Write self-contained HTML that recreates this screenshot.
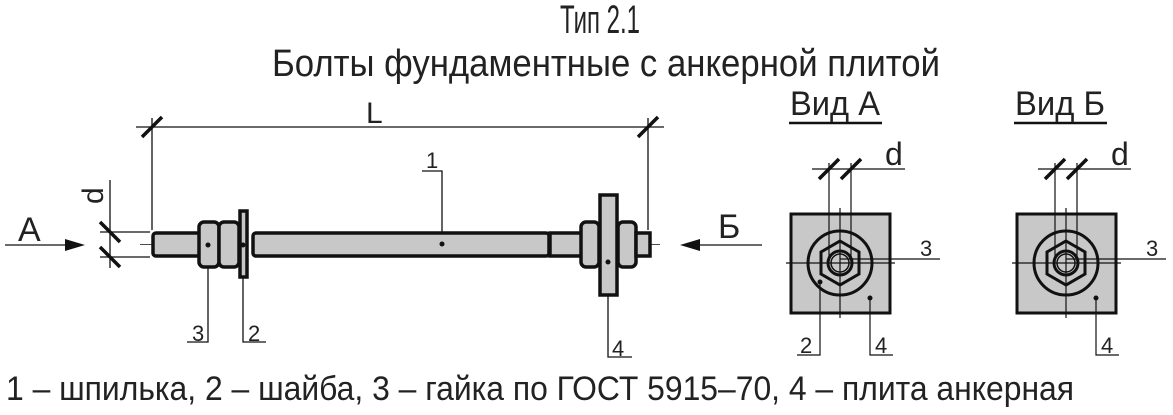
<!DOCTYPE html>
<html><head><meta charset="utf-8"><style>
html,body{margin:0;padding:0;background:#fff;}
svg{display:block;}
text{font-family:"Liberation Sans Narrow","Liberation Sans",sans-serif;fill:#222;}
</style></head><body>
<svg width="1173" height="415" viewBox="0 0 1173 415" xmlns="http://www.w3.org/2000/svg">
<text x="560" y="33" font-size="40" textLength="80" lengthAdjust="spacingAndGlyphs">Тип 2.1</text>
<text x="272" y="76" font-size="38" textLength="668" lengthAdjust="spacingAndGlyphs">Болты фундаментные с анкерной плитой</text>
<text x="6" y="400" font-size="34" textLength="1068" lengthAdjust="spacingAndGlyphs">1 – шпилька, 2 – шайба, 3 – гайка по ГОСТ 5915–70, 4 – плита анкерная</text>

<g stroke="#111" fill="none" stroke-width="1.3">
<line x1="136" y1="127" x2="664" y2="127"/>
<line x1="152" y1="118" x2="152" y2="230"/>
<line x1="648" y1="118" x2="648" y2="230"/>
<line x1="110" y1="180" x2="110" y2="268"/>
<line x1="100" y1="232" x2="150" y2="232"/>
<line x1="100" y1="257" x2="150" y2="257"/>
<line x1="5" y1="245" x2="70" y2="245"/>
<line x1="695" y1="245" x2="762" y2="245"/>
<polyline points="422,171 442,171 442,242"/>
<polyline points="187,342 208,342 208,245"/>
<polyline points="266,342 243,342 243,245"/>
<polyline points="632,357 608,357 608,262"/>
<line x1="140" y1="244.5" x2="660" y2="244.5" stroke-width="0.8" stroke-dasharray="18,4,2,4"/>
</g>
<g stroke="#111" stroke-width="3.5">
<line x1="142" y1="137" x2="162" y2="117"/>
<line x1="638" y1="137" x2="658" y2="117"/>
<line x1="100" y1="222" x2="120" y2="242"/>
<line x1="100" y1="247" x2="120" y2="267"/>
</g>
<polygon points="85,245 65,239 65,251" fill="#111"/>
<polygon points="680,245 700,239 700,251" fill="#111"/>
<text x="18" y="241" font-size="34">А</text>
<text x="718" y="238" font-size="34">Б</text>
<text x="366" y="123" font-size="30">L</text>
<text x="0" y="0" font-size="30" transform="translate(103,204) rotate(-90)">d</text>
<text x="426" y="168" font-size="22">1</text>
<text x="192" y="341" font-size="22">3</text>
<text x="248" y="341" font-size="22">2</text>
<text x="612" y="356" font-size="22">4</text>

<g stroke="#111" stroke-width="3.5" fill="#c8c8c8">
<rect x="153" y="233" width="48" height="23" rx="3"/>
<rect x="199" y="222" width="20" height="45" rx="5"/>
<rect x="219" y="222" width="20" height="45" rx="5"/>
<rect x="240" y="211" width="7" height="66"/>
<rect x="253" y="233" width="296" height="23" rx="3"/>
<rect x="550" y="233" width="32" height="23"/>
<rect x="581" y="222" width="18" height="45" rx="5"/>
<rect x="600" y="195" width="17" height="100"/>
<rect x="618" y="222" width="18" height="45" rx="5"/>
<rect x="636" y="233" width="14" height="23"/>
</g>
<g fill="#111"><circle cx="442" cy="244" r="2.5"/><circle cx="208" cy="245" r="2.5"/><circle cx="243" cy="245" r="2.5"/><circle cx="608" cy="262" r="2.5"/></g>

<g id="va">
<rect x="791" y="214" width="99" height="99" fill="#c8c8c8" stroke="#111" stroke-width="3"/>
<g stroke="#111" fill="none" stroke-width="3">
<circle cx="840" cy="263" r="32"/>
<polygon points="840,241 859,252 859,274 840,285 821,274 821,252" fill="#c8c8c8"/>
<circle cx="840" cy="263" r="12"/>
<circle cx="840" cy="263" r="9" stroke-width="1.5"/>
</g>
<g stroke="#111" stroke-width="1.2" fill="none">
<line x1="786" y1="263" x2="895" y2="263"/>
<line x1="840" y1="208" x2="840" y2="318"/>
<line x1="829" y1="163" x2="829" y2="262"/>
<line x1="851" y1="163" x2="851" y2="262"/>
<line x1="812" y1="169" x2="905" y2="169"/>
<line x1="840" y1="259" x2="940" y2="259"/>
</g>
<g stroke="#111" stroke-width="3.5">
<line x1="819" y1="179" x2="839" y2="159"/>
<line x1="841" y1="179" x2="861" y2="159"/>
</g>
<text x="885" y="165" font-size="32">d</text>
<text x="920" y="256" font-size="22">3</text>
<circle cx="870" cy="298" r="2.5" fill="#111"/>
<polyline points="870,298 870,355 893,355" stroke="#111" stroke-width="1.2" fill="none"/>
<text x="875" y="353" font-size="22">4</text>
</g>
<circle cx="820" cy="282" r="2.5" fill="#111"/>
<polyline points="820,282 820,355 797,355" stroke="#111" stroke-width="1.2" fill="none"/>
<text x="800" y="353" font-size="22">2</text>
<use href="#va" transform="translate(226,0)"/>

<text x="790" y="115" font-size="34" textLength="90" lengthAdjust="spacingAndGlyphs">Вид А</text>
<line x1="789" y1="123" x2="882" y2="123" stroke="#111" stroke-width="2.5"/>
<text x="1015" y="115" font-size="34" textLength="90" lengthAdjust="spacingAndGlyphs">Вид Б</text>
<line x1="1014" y1="123" x2="1107" y2="123" stroke="#111" stroke-width="2.5"/>
</svg>
</body></html>
